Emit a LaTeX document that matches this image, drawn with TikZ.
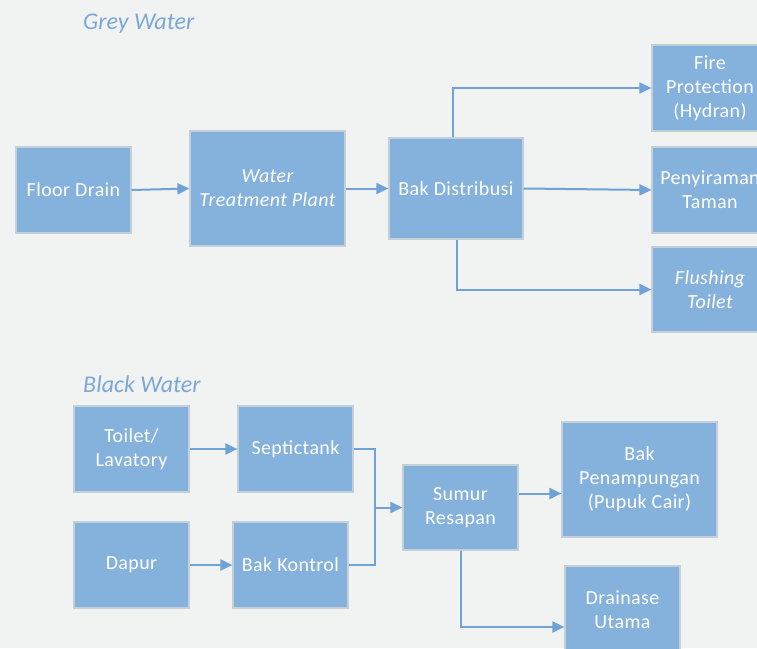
\documentclass[tikz,border=0pt]{standalone}
\usepackage{fontspec}
\setmainfont{Carlito}
\usetikzlibrary{arrows.meta}
\definecolor{bg}{HTML}{F1F2F2}
\definecolor{boxfill}{HTML}{85B2DD}
\definecolor{boxedge}{HTML}{C5CFD8}
\definecolor{arrowc}{HTML}{6FA2D7}
\definecolor{lblc}{HTML}{7BA8D8}
\begin{document}
\begin{tikzpicture}[x=1pt,y=-1pt,
  box/.style={draw=boxedge, line width=1.2pt, fill=boxfill, text=white, align=center,
    font=\fontsize{20}{24}\selectfont\addfontfeatures{LetterSpace=2}, inner sep=0pt},
  conn/.style={draw=arrowc, line width=2pt, -{Triangle[length=12pt,width=11pt]}},
  link/.style={draw=arrowc, line width=2pt},
  lbl/.style={text=lblc, font=\fontsize{24}{28}\selectfont\itshape, anchor=west, inner sep=0pt}]
\fill[bg] (0,0) rectangle (757,648);
\useasboundingbox (0,0) rectangle (757,648);
\node[lbl] (gw) at (83,24) {Grey Water};
\node[box, minimum width=115pt, minimum height=86pt] (fd) at (73.5,190) {Floor Drain};
\node[box, minimum width=155pt, minimum height=115pt] (wtp) at (267.5,188.5) {\itshape Water\\\itshape Treatment Plant};
\node[box, minimum width=134pt, minimum height=101pt] (bd) at (456,188.5) {Bak Distribusi};
\node[box, minimum width=116pt, minimum height=86pt] (fire) at (710,88) {Fire\\Protection\\(Hydran)};
\node[box, minimum width=116pt, minimum height=86pt] (pen) at (710,190) {Penyiraman\\Taman};
\node[box, minimum width=116pt, minimum height=85pt] (flush) at (710,289.5) {\itshape Flushing\\\itshape Toilet};
\draw[conn] (fd.east) -- (wtp.west);
\draw[conn] (wtp.east) -- (bd.west);
\draw[conn] ([xshift=-3pt]bd.north) |- (fire.west);
\draw[conn] (bd.east) -- (pen.west);
\draw[conn] ([xshift=1pt]bd.south) |- (flush.west);

\node[lbl] (bw) at (83,384) {Black Water};
\node[box, minimum width=115pt, minimum height=86pt] (toilet) at (131.5,449) {Toilet/\\Lavatory};
\node[box, minimum width=115pt, minimum height=86pt] (septic) at (295.5,449) {Septictank};
\node[box, minimum width=115pt, minimum height=86pt] (dapur) at (131.5,565) {Dapur};
\node[box, minimum width=115pt, minimum height=86pt] (bk) at (290.5,565) {Bak Kontrol};
\node[box, minimum width=115pt, minimum height=85pt] (sumur) at (460.5,507.5) {Sumur\\Resapan};
\node[box, minimum width=155pt, minimum height=115pt] (bp) at (639.5,479.5) {Bak\\Penampungan\\(Pupuk Cair)};
\node[box, minimum width=115pt, minimum height=88pt] (drain) at (622.5,610) {Drainase\\Utama};
\coordinate (j) at (375,507.5);
\draw[conn] (toilet.east) -- (septic.west);
\draw[conn] (dapur.east) -- (bk.west);
\draw[link] (septic.east) -| (j);
\draw[link] (bk.east) -| (j);
\draw[conn] (j) -- (sumur.west);
\draw[conn] ([yshift=14pt]sumur.east) -- ([yshift=14pt]sumur.east -| bp.west);
\draw[conn] (sumur.south) |- ([yshift=-17pt]drain.west);
\end{tikzpicture}
\end{document}
